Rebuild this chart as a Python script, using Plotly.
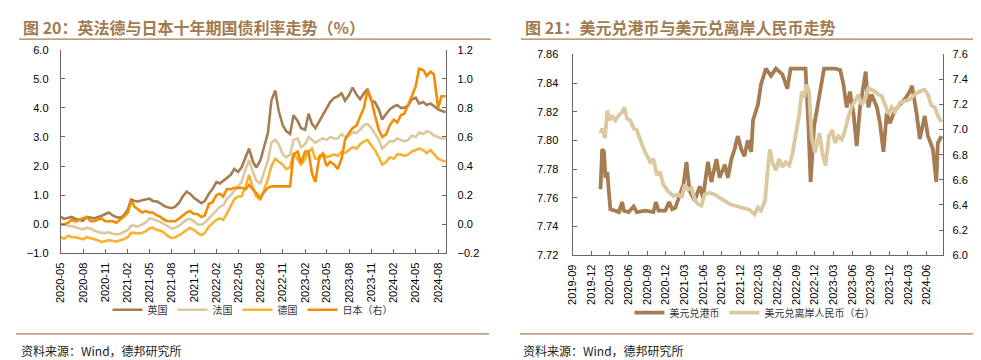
import plotly.graph_objects as go
import pandas as pd

# ---------------- Left chart: 10Y government bond yields ----------------
bond_dates = pd.date_range("2020-05-01", "2024-09-01", freq="SMS")

uk = [0.25, 0.18, 0.22, 0.25, 0.18, 0.15, 0.12, 0.25, 0.22, 0.20, 0.25, 0.28, 0.35, 0.40, 0.30, 0.25,
      0.22, 0.30, 0.50, 0.85, 0.80, 0.78, 0.82, 0.85, 0.88, 0.80, 0.78, 0.72, 0.62, 0.58, 0.55, 0.60,
      0.75, 0.95, 1.12, 1.05, 0.90, 0.82, 0.72, 0.80,
      1.05, 1.20, 1.45, 1.40, 1.50, 1.60, 1.70, 1.90, 1.80, 1.95, 2.30, 2.60, 2.15, 1.95, 2.20, 2.60,
      3.15, 4.25, 4.60, 3.90, 3.40, 3.20, 3.10, 3.75,
      3.55, 3.30, 3.25, 3.80, 3.45, 3.30, 3.55, 3.75, 3.95, 4.20, 4.35, 4.40, 4.50, 4.25, 4.45, 4.70,
      4.45, 4.30, 4.50, 4.65, 4.25, 4.20, 3.95, 3.60,
      3.80, 3.95, 4.05, 4.10, 4.00, 4.00, 4.10, 4.30, 4.35, 4.15, 4.20, 4.10, 4.15, 4.05, 3.95, 3.90,
      3.85]

france = [0.00, -0.02, -0.05, -0.08, -0.10, -0.15, -0.18, -0.12, -0.15, -0.22, -0.25, -0.30, -0.30, -0.28, -0.33, -0.35,
          -0.33, -0.28, -0.20, -0.05, -0.05, -0.08, -0.02, 0.05, 0.20, 0.18, 0.12, 0.08, 0.00, -0.08, -0.15, -0.12,
          -0.05, 0.05, 0.15, 0.18, 0.10, 0.00, -0.02, 0.05,
          0.20, 0.35, 0.50, 0.60, 0.65, 0.85, 1.00, 1.15, 1.30, 1.45, 1.90, 2.20, 1.80, 1.50, 1.40, 1.80,
          2.20, 2.80, 2.90, 2.75, 2.40, 2.30, 2.40, 2.90,
          2.95, 2.65, 2.75, 3.00, 2.90, 2.80, 2.90, 2.95, 2.90, 3.00, 2.95, 2.95, 3.10, 3.00, 3.05, 3.15,
          3.15, 3.25, 3.40, 3.45, 3.30, 3.10, 2.90, 2.60,
          2.75, 2.85, 2.85, 2.95, 2.90, 2.85, 2.90, 3.05, 3.00, 3.15, 3.10, 3.20, 3.15, 3.05, 3.00, 2.95,
          2.95]

germany = [-0.45, -0.50, -0.40, -0.45, -0.45, -0.48, -0.52, -0.45, -0.48, -0.52, -0.55, -0.62, -0.58, -0.55, -0.58, -0.60,
           -0.55, -0.52, -0.45, -0.30, -0.30, -0.32, -0.30, -0.25, -0.15, -0.12, -0.20, -0.22, -0.30, -0.40, -0.48, -0.45,
           -0.38, -0.30, -0.18, -0.12, -0.20, -0.30, -0.38, -0.30,
           -0.08, 0.02, 0.15, 0.20, 0.15, 0.35, 0.60, 0.85, 0.95, 0.95, 1.30, 1.70, 1.25, 0.95, 0.85, 1.20,
           1.55, 2.00, 2.25, 2.15, 2.05, 1.90, 1.95, 2.45,
           2.25, 2.05, 2.25, 2.50, 2.60, 2.25, 2.25, 2.45, 2.30, 2.35, 2.40, 2.35, 2.50, 2.45, 2.55, 2.65,
           2.60, 2.75, 2.85, 2.90, 2.70, 2.55, 2.30, 2.05,
           2.15, 2.30, 2.25, 2.40, 2.40, 2.35, 2.40, 2.50, 2.55, 2.60, 2.55, 2.45, 2.55, 2.40, 2.25, 2.20,
           2.15]

japan = [0.00, 0.00, 0.01, 0.03, 0.02, 0.03, 0.04, 0.05, 0.02, 0.02, 0.03, 0.04, 0.02, 0.02, 0.02, 0.01,
         0.03, 0.05, 0.08, 0.16, 0.12, 0.10, 0.08, 0.09, 0.08, 0.08, 0.06, 0.05, 0.03, 0.02, 0.02, 0.02,
         0.04, 0.06, 0.08, 0.09, 0.07, 0.07, 0.05, 0.06,
         0.14, 0.15, 0.20, 0.21, 0.19, 0.24, 0.24, 0.25, 0.25, 0.25, 0.24, 0.27, 0.24, 0.21, 0.18, 0.22,
         0.25, 0.26, 0.26, 0.26, 0.26, 0.26, 0.26, 0.48,
         0.50, 0.42, 0.50, 0.50, 0.35, 0.29, 0.47, 0.48, 0.40, 0.43, 0.41, 0.38, 0.45, 0.58, 0.63, 0.66,
         0.68, 0.74, 0.80, 0.92, 0.85, 0.75, 0.65, 0.60,
         0.62, 0.68, 0.72, 0.70, 0.75, 0.76, 0.82, 0.88, 0.95, 1.07, 1.06, 1.02, 1.05, 1.03, 0.80, 0.88,
         0.88]

# ---------------- Right chart: USD/HKD and USD/CNH ----------------
hkd_dates = ["2020-01-16", "2020-01-24", "2020-02-02", "2020-02-09", "2020-02-18", "2020-02-26", "2020-03-04",
             "2020-03-28", "2020-04-15", "2020-05-01", "2020-05-09", "2020-06-01", "2020-06-26", "2020-07-12",
             "2020-08-22", "2020-10-01", "2020-10-13", "2020-10-26", "2020-11-28", "2020-12-17", "2021-01-01",
             "2021-01-16", "2021-02-01", "2021-02-25", "2021-03-12", "2021-03-27", "2021-04-21", "2021-05-16",
             "2021-06-01", "2021-06-25", "2021-07-12", "2021-08-06", "2021-08-21", "2021-09-16", "2021-10-01",
             "2021-10-18", "2021-11-03", "2021-11-18", "2021-12-05", "2021-12-21", "2022-01-06", "2022-01-23",
             "2022-02-01", "2022-02-25", "2022-03-12", "2022-04-05", "2022-04-30", "2022-05-24", "2022-06-25",
             "2022-07-19", "2022-08-04", "2022-09-16", "2022-10-16", "2022-10-30", "2022-11-10", "2022-11-27",
             "2022-12-13", "2022-12-28", "2023-01-15", "2023-02-08", "2023-03-10", "2023-04-04", "2023-04-20",
             "2023-05-06", "2023-05-22", "2023-06-08", "2023-06-24", "2023-07-10", "2023-07-27", "2023-08-07",
             "2023-08-20", "2023-09-05", "2023-10-01", "2023-10-16", "2023-11-02", "2023-11-18", "2023-12-03",
             "2023-12-28", "2024-01-22", "2024-02-16", "2024-03-10", "2024-03-21", "2024-04-12", "2024-04-28",
             "2024-05-22", "2024-06-07", "2024-07-01", "2024-07-18", "2024-07-25", "2024-08-12"]
hkd = [7.766, 7.794, 7.792, 7.774, 7.778, 7.760, 7.752,
       7.751, 7.750, 7.757, 7.751, 7.750, 7.754, 7.750,
       7.751, 7.750, 7.757, 7.751, 7.751, 7.757, 7.752,
       7.753, 7.760, 7.769, 7.785, 7.765, 7.758, 7.768,
       7.760, 7.785, 7.771, 7.787, 7.774, 7.783, 7.774,
       7.787, 7.794, 7.803, 7.794, 7.789, 7.800, 7.792,
       7.814, 7.825, 7.839, 7.850, 7.845, 7.850, 7.846,
       7.836, 7.850, 7.850, 7.850, 7.812, 7.771, 7.810,
       7.823, 7.839, 7.850, 7.850, 7.850, 7.849, 7.839,
       7.823, 7.834, 7.819, 7.796, 7.823, 7.839, 7.848,
       7.823, 7.832, 7.823, 7.812, 7.792, 7.819, 7.812,
       7.821, 7.825, 7.829, 7.834, 7.838, 7.819, 7.801,
       7.817, 7.803, 7.794, 7.771, 7.798, 7.803]

cnh_dates = ["2020-01-16", "2020-01-24", "2020-02-07", "2020-02-18", "2020-03-01", "2020-03-12", "2020-03-28",
             "2020-04-14", "2020-05-01", "2020-05-12", "2020-05-25", "2020-06-10", "2020-06-26", "2020-07-12",
             "2020-07-28", "2020-08-22", "2020-09-16", "2020-10-01", "2020-10-18", "2020-11-03", "2020-11-18",
             "2020-12-12", "2021-01-07", "2021-02-01", "2021-02-17", "2021-03-04", "2021-03-19", "2021-04-06",
             "2021-04-21", "2021-05-07", "2021-05-24", "2021-06-09", "2021-07-03", "2021-07-28", "2021-08-21",
             "2021-09-16", "2021-10-10", "2021-11-03", "2021-11-28", "2021-12-21", "2022-01-15", "2022-02-09",
             "2022-02-25", "2022-03-12", "2022-04-01", "2022-04-13", "2022-04-25", "2022-05-07", "2022-05-24",
             "2022-06-09", "2022-06-25", "2022-07-11", "2022-07-28", "2022-08-13", "2022-08-30", "2022-09-16",
             "2022-09-28", "2022-10-10", "2022-10-20", "2022-11-03", "2022-11-15", "2022-12-01", "2022-12-13",
             "2022-12-24", "2023-01-06", "2023-01-22", "2023-02-08", "2023-02-24", "2023-03-10", "2023-03-26",
             "2023-04-12", "2023-04-28", "2023-05-14", "2023-06-01", "2023-06-16", "2023-07-02", "2023-07-18",
             "2023-08-04", "2023-08-20", "2023-09-05", "2023-09-21", "2023-10-08", "2023-10-24", "2023-11-09",
             "2023-11-26", "2023-12-12", "2023-12-28", "2024-01-22", "2024-02-16", "2024-03-10", "2024-04-03",
             "2024-04-28", "2024-05-22", "2024-06-07", "2024-06-24", "2024-07-10", "2024-07-25", "2024-08-12"]
cnh = [6.972, 7.010, 6.933, 7.151, 7.074, 7.113, 7.074,
       7.113, 7.138, 7.177, 7.087, 7.074, 7.010, 6.997,
       6.920, 6.818, 6.741, 6.767, 6.638, 6.664, 6.561,
       6.510, 6.471, 6.484, 6.458, 6.561, 6.523, 6.535,
       6.445, 6.407, 6.394, 6.484, 6.497, 6.484, 6.458,
       6.433, 6.407, 6.394, 6.381, 6.368, 6.362, 6.325,
       6.380, 6.356, 6.433, 6.664, 6.843, 6.741, 6.677,
       6.767, 6.702, 6.741, 6.715, 6.805, 6.946, 7.126,
       7.305, 7.254, 7.357, 7.305, 6.946, 6.818, 6.895,
       6.972, 6.818, 6.715, 6.946, 6.997, 6.895, 6.946,
       6.920, 6.997, 7.100, 7.190, 7.228, 7.280, 7.202,
       7.240, 7.330, 7.318, 7.305, 7.280, 7.267, 7.202,
       7.126, 7.177, 7.138, 7.215, 7.228, 7.240, 7.280,
       7.305, 7.318, 7.280, 7.190, 7.177, 7.113, 7.061]

# ---------------- Styling ----------------
W, H = 981, 360
C_UK = "#A67C52"
C_FR = "#DCC8A0"
C_DE = "#F5B335"
C_JP = "#F28C00"
C_HKD = "#A67C52"
C_CNH = "#DCC8A0"
TITLE_C = "#A27B50"
AX_C = "#666666"
TICK_FONT = dict(family="Liberation Sans, Arial", size=11, color="#000000")
CJK = "Noto Sans CJK SC"


def px_x(p):
    return p / W


def px_y(p):
    return 1 - p / H


fig = go.Figure()
lw_l = 2.6
fig.add_trace(go.Scatter(x=bond_dates, y=uk, name="英国", mode="lines",
                         line=dict(color=C_UK, width=lw_l), xaxis="x", yaxis="y", legend="legend"))
fig.add_trace(go.Scatter(x=bond_dates, y=france, name="法国", mode="lines",
                         line=dict(color=C_FR, width=lw_l), xaxis="x", yaxis="y", legend="legend"))
fig.add_trace(go.Scatter(x=bond_dates, y=germany, name="德国", mode="lines",
                         line=dict(color=C_DE, width=lw_l), xaxis="x", yaxis="y", legend="legend"))
fig.add_trace(go.Scatter(x=bond_dates, y=japan, name="日本（右）", mode="lines",
                         line=dict(color=C_JP, width=lw_l), xaxis="x", yaxis="y2", legend="legend"))

lw_r = 3.8
fig.add_trace(go.Scatter(x=hkd_dates, y=hkd, name="美元兑港币", mode="lines",
                         line=dict(color=C_HKD, width=lw_r), xaxis="x2", yaxis="y3", legend="legend2"))
fig.add_trace(go.Scatter(x=cnh_dates, y=cnh, name="美元兑离岸人民币（右）", mode="lines",
                         line=dict(color=C_CNH, width=lw_r), xaxis="x2", yaxis="y4", legend="legend2"))

common_x = dict(type="date", dtick="M3", tickformat="%Y-%m", tickangle=-90, ticks="inside", ticklen=4,
                tickcolor=AX_C, showline=True, linecolor=AX_C, linewidth=1, showgrid=False, zeroline=False,
                tickfont=TICK_FONT, ticklabelstandoff=4)
common_y = dict(ticks="inside", ticklen=4, tickcolor=AX_C, showline=True, linecolor=AX_C, linewidth=1,
                showgrid=False, zeroline=False, tickfont=TICK_FONT)

fig.update_layout(
    width=W, height=H,
    margin=dict(l=0, r=0, t=0, b=0),
    paper_bgcolor="white", plot_bgcolor="white",
    showlegend=True,
    xaxis=dict(common_x, domain=[px_x(47), px_x(435)], anchor="y",
               range=["2020-05-01", "2024-09-04"], tick0="2020-05-01"),
    yaxis=dict(common_y, domain=[px_y(247.5), px_y(37)], anchor="x", range=[-1, 6], dtick=1,
               tickformat=".1f", ticklabelstandoff=9),
    yaxis2=dict(common_y, overlaying="y", side="right", anchor="x", range=[-0.2, 1.2], dtick=0.2,
                tickformat=".1f", ticklabelstandoff=8),
    xaxis2=dict(common_x, domain=[px_x(562), px_x(935)], anchor="y3",
                range=["2019-09-01", "2024-08-21"], tick0="2019-09-01"),
    yaxis3=dict(common_y, domain=[px_y(249.5), px_y(41.7)], anchor="x2", range=[7.72, 7.86], dtick=0.02,
                tickformat=".2f", ticklabelstandoff=11),
    yaxis4=dict(common_y, overlaying="y3", side="right", anchor="x2", range=[6.0, 7.6], dtick=0.2,
                tickformat=".1f", ticklabelstandoff=6),
    legend=dict(orientation="h", x=px_x(240), xanchor="center", y=px_y(306), yanchor="middle",
                font=dict(family=CJK, size=10, color="#333333"), bgcolor="rgba(0,0,0,0)",
                itemwidth=30, tracegroupgap=0),
    legend2=dict(orientation="h", x=px_x(745), xanchor="center", y=px_y(309), yanchor="middle",
                 font=dict(family=CJK, size=10, color="#333333"), bgcolor="rgba(0,0,0,0)",
                 itemwidth=30, tracegroupgap=0),
)

annotations = [
    dict(text="<b>图 20：英法德与日本十年期国债利率走势（%）</b>", x=px_x(7), y=px_y(13),
         xanchor="left", yanchor="middle", font=dict(family=CJK, size=16, color=TITLE_C)),
    dict(text="<b>图 21：美元兑港币与美元兑离岸人民币走势</b>", x=px_x(512), y=px_y(13),
         xanchor="left", yanchor="middle", font=dict(family=CJK, size=16, color=TITLE_C)),
    dict(text="资料来源：Wind，德邦研究所", x=px_x(5), y=px_y(348),
         xanchor="left", yanchor="middle", font=dict(family=CJK, size=12, color="#222222")),
    dict(text="资料来源：Wind，德邦研究所", x=px_x(510), y=px_y(348),
         xanchor="left", yanchor="middle", font=dict(family=CJK, size=12, color="#222222")),
]
for a in annotations:
    a.update(xref="paper", yref="paper", showarrow=False)
fig.update_layout(annotations=annotations)

line_c = "#A67C52"
shapes = [
    dict(x0=px_x(5), x1=px_x(480), y0=px_y(26), y1=px_y(26)),
    dict(x0=px_x(510), x1=px_x(966), y0=px_y(26), y1=px_y(26)),
    dict(x0=px_x(2), x1=px_x(478), y0=px_y(331), y1=px_y(331)),
    dict(x0=px_x(509), x1=px_x(966), y0=px_y(331), y1=px_y(331)),
]
for s in shapes:
    s.update(type="line", xref="paper", yref="paper", line=dict(color=line_c, width=1.3))
fig.update_layout(shapes=shapes)

fig.write_html("out.html")
